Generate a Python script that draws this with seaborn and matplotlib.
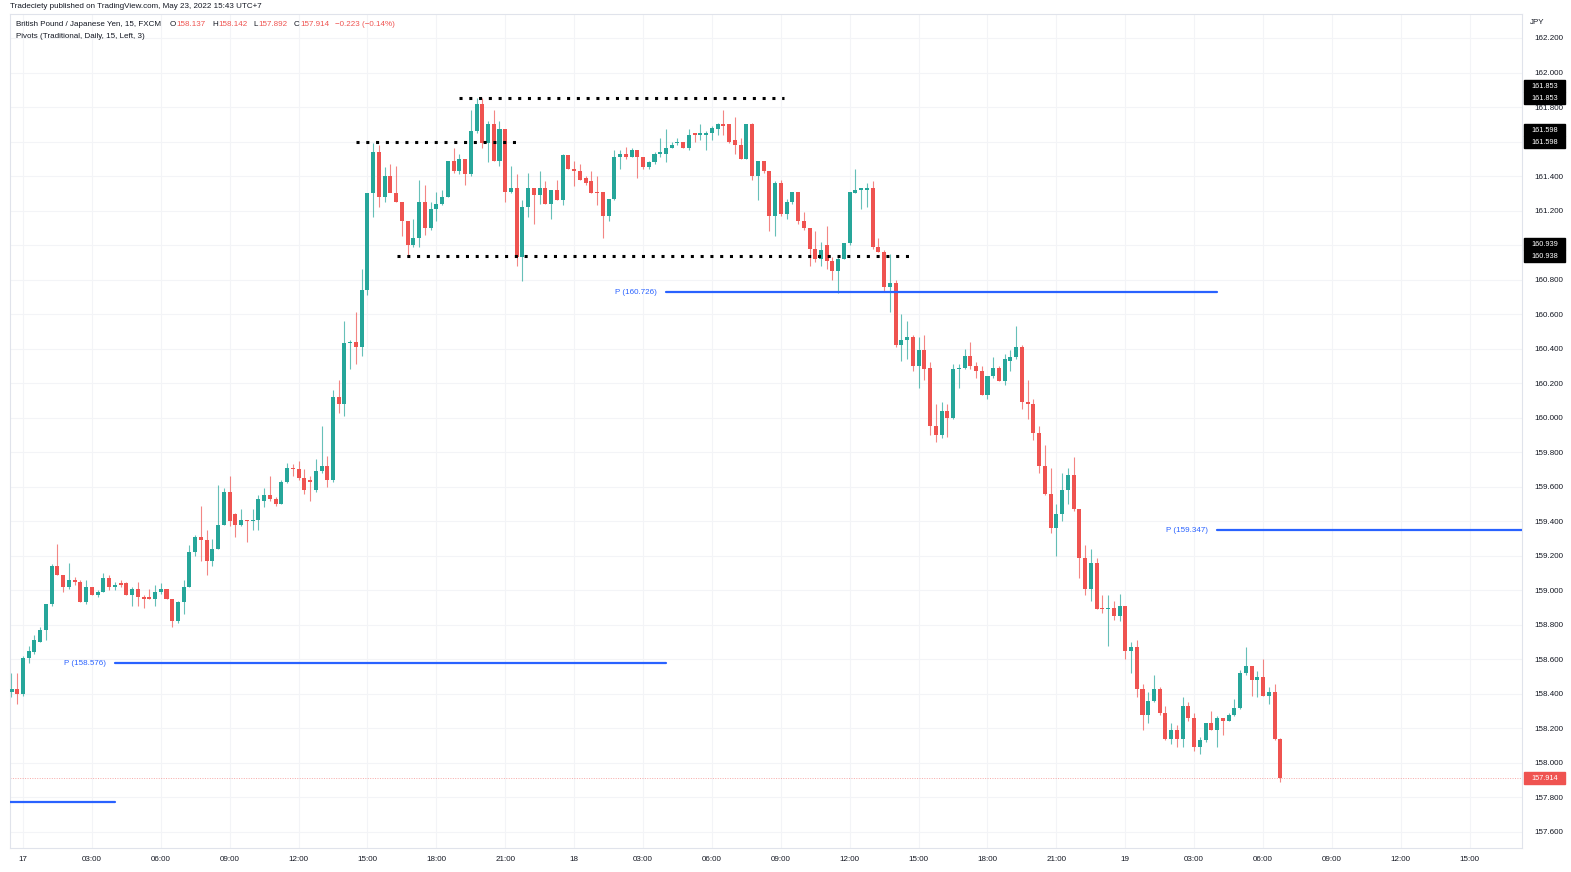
import numpy as np
import pandas as pd
import matplotlib
matplotlib.use("Agg")
import matplotlib.pyplot as plt
import seaborn as sns
from matplotlib.patches import Rectangle

# ---------------- data (15-min GBP/JPY bars; index 0 = 17th 00:00) ----------------
bar_index = list(range(-2, 220))
opens = [158.41, 158.43,
 158.40, 158.61, 158.64, 158.70, 158.77, 158.92, 159.14, 159.09, 159.02, 159.06,
 159.05, 158.93, 159.02, 158.97, 158.99, 159.07, 159.02, 159.04, 159.04, 158.97,
 159.01, 158.96, 158.96, 158.95, 158.99, 159.01, 158.95, 158.82, 158.93, 159.02,
 159.22, 159.31, 159.29, 159.17, 159.24, 159.38, 159.57, 159.44, 159.38, 159.41,
 159.40, 159.41, 159.52, 159.55, 159.53, 159.50, 159.63, 159.71, 159.70, 159.65,
 159.64, 159.58, 159.69, 159.72, 159.64, 160.12, 160.08, 160.43, 160.44, 160.41,
 160.74, 161.30, 161.54, 161.28, 161.40, 161.30, 161.25, 161.14, 161.00, 161.04,
 161.25, 161.10, 161.21, 161.24, 161.28, 161.49, 161.43, 161.50, 161.41, 161.66,
 161.82, 161.59, 161.70, 161.49, 161.67, 161.31, 161.33, 160.93, 161.22, 161.33,
 161.29, 161.33, 161.24, 161.32, 161.26, 161.52, 161.44, 161.43, 161.39, 161.37,
 161.31, 161.31, 161.17, 161.27, 161.51, 161.53, 161.51, 161.55, 161.51, 161.45,
 161.48, 161.53, 161.53, 161.56, 161.59, 161.60, 161.56, 161.65, 161.64, 161.64,
 161.65, 161.67, 161.70, 161.70, 161.61, 161.58, 161.50, 161.70, 161.40, 161.49,
 161.43, 161.17, 161.36, 161.18, 161.25, 161.31, 161.14, 161.10, 160.98, 160.92,
 161.00, 160.91, 160.85, 160.92, 161.01, 161.30, 161.32, 161.32, 161.33, 160.99,
 160.96, 160.76, 160.78, 160.42, 160.45, 160.47, 160.30, 160.39, 160.29, 159.95,
 159.90, 160.04, 160.00, 160.28, 160.29, 160.36, 160.30, 160.27, 160.13, 160.24,
 160.29, 160.21, 160.33, 160.35, 160.41, 160.09, 160.08, 159.91, 159.72, 159.56,
 159.36, 159.44, 159.58, 159.67, 159.47, 159.19, 159.01, 159.16, 158.90, 158.89,
 158.90, 158.85, 158.91, 158.65, 158.67, 158.43, 158.28, 158.36, 158.43, 158.29,
 158.14, 158.19, 158.14, 158.33, 158.26, 158.09, 158.13, 158.23, 158.19, 158.26,
 158.24, 158.28, 158.32, 158.52, 158.56, 158.48, 158.50, 158.39, 158.41, 158.137]
highs = [158.52, 158.52,
 158.62, 158.68, 158.74, 158.79, 158.92, 159.15, 159.27, 159.09, 159.16, 159.08,
 159.06, 159.06, 159.02, 159.00, 159.10, 159.09, 159.05, 159.06, 159.05, 159.02,
 159.05, 158.97, 159.01, 159.03, 159.04, 159.01, 158.95, 158.94, 159.06, 159.26,
 159.32, 159.49, 159.35, 159.30, 159.61, 159.59, 159.66, 159.45, 159.47, 159.41,
 159.47, 159.55, 159.59, 159.66, 159.54, 159.64, 159.74, 159.73, 159.75, 159.70,
 159.66, 159.76, 159.95, 159.78, 160.16, 160.22, 160.56, 160.45, 160.61, 160.86,
 161.30, 161.59, 161.58, 161.45, 161.47, 161.46, 161.25, 161.14, 161.15, 161.38,
 161.35, 161.25, 161.31, 161.32, 161.49, 161.56, 161.53, 161.50, 161.78, 161.853,
 161.85, 161.72, 161.78, 161.72, 161.67, 161.46, 161.41, 161.26, 161.42, 161.33,
 161.43, 161.37, 161.32, 161.38, 161.53, 161.52, 161.49, 161.47, 161.40, 161.43,
 161.40, 161.31, 161.27, 161.55, 161.55, 161.57, 161.56, 161.55, 161.51, 161.49,
 161.54, 161.62, 161.67, 161.60, 161.62, 161.60, 161.67, 161.65, 161.70, 161.66,
 161.69, 161.71, 161.78, 161.70, 161.74, 161.62, 161.70, 161.71, 161.49, 161.49,
 161.43, 161.37, 161.38, 161.27, 161.31, 161.31, 161.19, 161.10, 161.08, 161.02,
 161.11, 160.93, 160.93, 161.01, 161.31, 161.44, 161.33, 161.36, 161.37, 161.04,
 160.97, 160.95, 160.80, 160.60, 160.56, 160.48, 160.47, 160.48, 160.32, 160.08,
 160.09, 160.08, 160.31, 160.31, 160.40, 160.44, 160.32, 160.30, 160.24, 160.35,
 160.30, 160.37, 160.39, 160.53, 160.42, 160.22, 160.11, 159.95, 159.84, 159.71,
 159.50, 159.68, 159.71, 159.77, 159.47, 159.26, 159.24, 159.19, 158.97, 158.97,
 158.94, 158.98, 158.91, 158.70, 158.71, 158.46, 158.41, 158.51, 158.44, 158.33,
 158.23, 158.22, 158.38, 158.35, 158.29, 158.15, 158.23, 158.30, 158.27, 158.26,
 158.29, 158.37, 158.54, 158.67, 158.56, 158.53, 158.60, 158.44, 158.46, 158.142]
lows = [158.38, 158.34,
 158.39, 158.58, 158.63, 158.70, 158.71, 158.91, 159.09, 158.99, 159.01, 159.03,
 158.93, 158.92, 158.97, 158.96, 158.99, 159.00, 159.00, 159.02, 158.97, 158.91,
 158.91, 158.90, 158.95, 158.91, 158.98, 158.95, 158.79, 158.81, 158.86, 159.02,
 159.20, 159.17, 159.09, 159.14, 159.24, 159.38, 159.37, 159.31, 159.37, 159.28,
 159.35, 159.35, 159.48, 159.52, 159.49, 159.50, 159.62, 159.66, 159.64, 159.56,
 159.52, 159.57, 159.68, 159.60, 159.63, 160.03, 160.01, 160.28, 160.31, 160.36,
 160.71, 161.16, 161.22, 161.25, 161.32, 161.25, 161.05, 160.94, 160.99, 160.99,
 161.06, 161.09, 161.14, 161.23, 161.28, 161.42, 161.41, 161.35, 161.40, 161.65,
 161.56, 161.48, 161.49, 161.46, 161.25, 161.30, 160.88, 160.79, 161.16, 161.12,
 161.24, 161.24, 161.15, 161.26, 161.23, 161.44, 161.34, 161.38, 161.35, 161.30,
 161.23, 161.04, 161.14, 161.26, 161.44, 161.50, 161.51, 161.39, 161.44, 161.44,
 161.47, 161.51, 161.48, 161.56, 161.58, 161.56, 161.55, 161.60, 161.61, 161.55,
 161.61, 161.64, 161.64, 161.59, 161.53, 161.50, 161.50, 161.38, 161.26, 161.42,
 161.08, 161.05, 161.17, 161.15, 161.24, 161.12, 161.09, 160.88, 160.90, 160.88,
 160.86, 160.80, 160.72, 160.92, 161.00, 161.30, 161.21, 161.22, 160.98, 160.96,
 160.73, 160.61, 160.41, 160.33, 160.34, 160.27, 160.17, 160.22, 159.90, 159.86,
 159.88, 159.89, 159.99, 160.17, 160.28, 160.28, 160.23, 160.13, 160.11, 160.23,
 160.21, 160.19, 160.27, 160.34, 160.05, 159.99, 159.87, 159.68, 159.55, 159.33,
 159.20, 159.40, 159.50, 159.46, 159.07, 158.97, 158.94, 158.89, 158.87, 158.68,
 158.83, 158.82, 158.60, 158.52, 158.38, 158.19, 158.23, 158.35, 158.28, 158.13,
 158.11, 158.09, 158.09, 158.24, 158.07, 158.05, 158.12, 158.19, 158.09, 158.16,
 158.24, 158.27, 158.31, 158.51, 158.39, 158.38, 158.39, 158.34, 158.13, 157.892]
closes = [158.43, 158.40,
 158.61, 158.65, 158.71, 158.77, 158.92, 159.14, 159.09, 159.02, 159.06, 159.05,
 158.93, 159.02, 158.97, 158.99, 159.07, 159.02, 159.03, 159.03, 158.97, 159.01,
 158.96, 158.95, 158.95, 158.99, 159.01, 158.95, 158.82, 158.93, 159.02, 159.22,
 159.31, 159.29, 159.17, 159.24, 159.38, 159.57, 159.40, 159.38, 159.41, 159.40,
 159.41, 159.53, 159.55, 159.53, 159.50, 159.63, 159.71, 159.70, 159.65, 159.58,
 159.63, 159.69, 159.72, 159.64, 160.12, 160.08, 160.43, 160.44, 160.41, 160.74,
 161.30, 161.54, 161.28, 161.40, 161.30, 161.25, 161.14, 161.00, 161.04, 161.25,
 161.10, 161.21, 161.24, 161.28, 161.49, 161.43, 161.50, 161.41, 161.66, 161.82,
 161.59, 161.70, 161.49, 161.67, 161.31, 161.33, 160.93, 161.22, 161.33, 161.29,
 161.33, 161.24, 161.32, 161.26, 161.52, 161.44, 161.43, 161.38, 161.36, 161.30,
 161.30, 161.17, 161.27, 161.51, 161.53, 161.51, 161.55, 161.51, 161.45, 161.48,
 161.53, 161.54, 161.56, 161.58, 161.60, 161.56, 161.64, 161.64, 161.65, 161.65,
 161.68, 161.70, 161.69, 161.60, 161.58, 161.50, 161.70, 161.40, 161.49, 161.43,
 161.17, 161.36, 161.18, 161.25, 161.31, 161.14, 161.10, 160.98, 160.92, 160.97,
 160.91, 160.85, 160.92, 161.01, 161.31, 161.32, 161.33, 161.33, 160.99, 160.96,
 160.76, 160.78, 160.42, 160.45, 160.47, 160.30, 160.39, 160.28, 159.95, 159.90,
 160.04, 160.00, 160.28, 160.29, 160.36, 160.30, 160.27, 160.13, 160.24, 160.29,
 160.21, 160.34, 160.35, 160.41, 160.09, 160.08, 159.91, 159.72, 159.56, 159.36,
 159.44, 159.58, 159.67, 159.47, 159.19, 159.01, 159.16, 158.89, 158.89, 158.90,
 158.85, 158.91, 158.65, 158.67, 158.43, 158.28, 158.36, 158.43, 158.29, 158.14,
 158.19, 158.14, 158.33, 158.26, 158.09, 158.13, 158.23, 158.19, 158.26, 158.24,
 158.28, 158.32, 158.52, 158.56, 158.48, 158.50, 158.39, 158.41, 158.137, 157.914]

tick_index = list(range(0, 253, 12))
tick_labels = ["17", "03:00", "06:00", "09:00", "12:00", "15:00", "18:00", "21:00",
               "18", "03:00", "06:00", "09:00", "12:00", "15:00", "18:00", "21:00",
               "19", "03:00", "06:00", "09:00", "12:00", "15:00"]
price_ticks = [157.6, 157.8, 158.0, 158.2, 158.4, 158.6, 158.8, 159.0, 159.2, 159.4,
               159.6, 159.8, 160.0, 160.2, 160.4, 160.6, 160.8, 161.0, 161.2, 161.4,
               161.6, 161.8, 162.0, 162.2]

pivot_values = [157.773, 158.576, 160.726, 159.347]
pivot_start = [-30, 16, 112, 208]
pivot_end = [16, 112, 208, 304]
pivot_show_label = [False, True, True, True]

level_values = [161.853, 161.598, 160.939]
level_start = [76.0, 58.0, 65.2]
level_end = [132.6, 86.0, 155.2]

box_values = [161.853, 161.853, 161.598, 161.598, 160.939, 160.938]
last_price = 157.914

ohlc_open, ohlc_high, ohlc_low, ohlc_close = 158.137, 158.142, 157.892, 157.914
change, change_pct = -0.223, -0.14

# ---------------- style ----------------
sns.set_theme(style="white")
plt.rcParams['font.family'] = ['Liberation Sans', 'DejaVu Sans']

W, H = 1571, 872
UP, DOWN = "#26a69a", "#ef5350"
TXT = "#131722"
GRID = "#f3f4f7"
BLUE = "#2962ff"
FS = 5.8

fig = plt.figure(figsize=(W / 100, H / 100), dpi=100)
fig.patch.set_facecolor("white")
ax = fig.add_axes([10 / W, 24 / H, 1512 / W, 834 / H])
ax.set_facecolor("white")

df = pd.DataFrame({"t": bar_index, "open": opens, "high": highs, "low": lows, "close": closes})
df["up"] = df["close"] >= df["open"]
df["color"] = np.where(df["up"], UP, DOWN)

ax.set_xlim(-2.26, 261.1)
ax.set_ylim(157.507, 162.339)

# grid
for t in tick_index:
    ax.axvline(t, color=GRID, lw=0.8, zorder=0)
for p in price_ticks:
    ax.axhline(p, color=GRID, lw=0.8, zorder=0)

# wicks
ax.vlines(df["t"], df["low"], df["high"], colors=df["color"], lw=0.8, alpha=0.7, zorder=2)
# bodies
body_low = np.minimum(df["open"], df["close"])
body_h = np.maximum(np.abs(df["close"] - df["open"]), 0.005)
ax.bar(df["t"], body_h, bottom=body_low, width=0.7, color=df["color"], lw=0, zorder=3)

# pivot lines
for v, s, e, show in zip(pivot_values, pivot_start, pivot_end, pivot_show_label):
    seg = pd.DataFrame({"t": [s, e], "p": [v, v]})
    sns.lineplot(data=seg, x="t", y="p", ax=ax, color=BLUE, lw=1.6, zorder=4)
    if show:
        ax.annotate(f"P ({v:.3f})", xy=(s, v), xytext=(-9, 0), textcoords="offset pixels",
                    ha="right", va="center", fontsize=FS, color=BLUE, zorder=5)

# user-drawn dotted levels
for v, s, e in zip(level_values, level_start, level_end):
    ax.plot([s, e], [v, v], color="black", lw=2.2, linestyle=(0, (1, 2.2)),
            dash_capstyle="butt", zorder=5)

# last price line
ax.axhline(last_price, color=DOWN, lw=0.7, alpha=0.5, linestyle=(0, (1, 1.5)), zorder=1)

# axes
ax.set_xlabel("")
ax.set_ylabel("")
ax.set_xticks(tick_index)
ax.set_xticklabels(tick_labels)
ax.set_yticks(price_ticks)
ax.set_yticklabels([f"{p:.3f}" for p in price_ticks])
ax.yaxis.tick_right()
ax.tick_params(axis="y", length=0, pad=9, labelsize=FS, labelcolor=TXT)
ax.tick_params(axis="x", length=0, pad=6, labelsize=FS, labelcolor=TXT)
for sp in ax.spines.values():
    sp.set_color("#e0e3eb")
    sp.set_linewidth(0.8)

# right-side price boxes (pairs stacked upward like the price scale does)
def ypix(v):
    return ax.transData.transform((0, v))[1]

BOX_H = 12.0
box_spans = []

def price_box(yc, text, fc, tc):
    box_spans.append((yc - BOX_H / 2, yc + BOX_H / 2))
    fig.add_artist(Rectangle((1524 / W, (yc - BOX_H / 2) / H), 41 / W, BOX_H / H,
                             transform=fig.transFigure, facecolor=fc, edgecolor=fc, zorder=5))
    fig.text(1545 / W, yc / H, text, ha="center", va="center_baseline", fontsize=5.3,
             color=tc, zorder=6)

for i in range(0, len(box_values), 2):
    base = ypix(min(box_values[i], box_values[i + 1]))
    price_box(base + BOX_H, f"{box_values[i]:.3f}", "black", "white")
    price_box(base, f"{box_values[i + 1]:.3f}", "black", "white")
price_box(ypix(last_price), f"{last_price:.3f}", DOWN, "white")

# price-scale labels fully hidden behind a box are not drawn (as on the price scale)
for p, lab in zip(price_ticks, ax.yaxis.get_ticklabels()):
    yp = ypix(p)
    if any(lo - 1 <= yp <= hi + 1 for lo, hi in box_spans):
        lab.set_visible(False)

# header texts
renderer = fig.canvas.get_renderer()

def seq_text(x0, y, pieces):
    x = x0
    for s, c, gap in pieces:
        t = fig.text(x / W, 1 - y / H, s, va="center", ha="left", fontsize=FS, color=c)
        x += t.get_window_extent(renderer).width + gap

fig.text(10 / W, 1 - 6 / H, "Tradeciety published on TradingView.com, May 23, 2022 15:43 UTC+7",
         va="center", ha="left", fontsize=FS, color=TXT)
seq_text(16, 25, [
    ("British Pound / Japanese Yen, 15, FXCM", TXT, 9),
    ("O", TXT, 0.6), (f"{ohlc_open:.3f}", DOWN, 6),
    ("H", TXT, 0.6), (f"{ohlc_high:.3f}", DOWN, 6),
    ("L", TXT, 0.6), (f"{ohlc_low:.3f}", DOWN, 6),
    ("C", TXT, 0.6), (f"{ohlc_close:.3f}", DOWN, 6),
    (f"\u2212{abs(change):.3f} (\u2212{abs(change_pct):.2f}%)", DOWN, 0),
])
fig.text(16 / W, 1 - 37 / H, "Pivots (Traditional, Daily, 15, Left, 3)",
         va="center", ha="left", fontsize=FS, color=TXT)
fig.text(1530 / W, 1 - 23 / H, "JPY", va="center", ha="left", fontsize=FS, color=TXT)

fig.savefig("out.png", dpi=100, facecolor="white")
